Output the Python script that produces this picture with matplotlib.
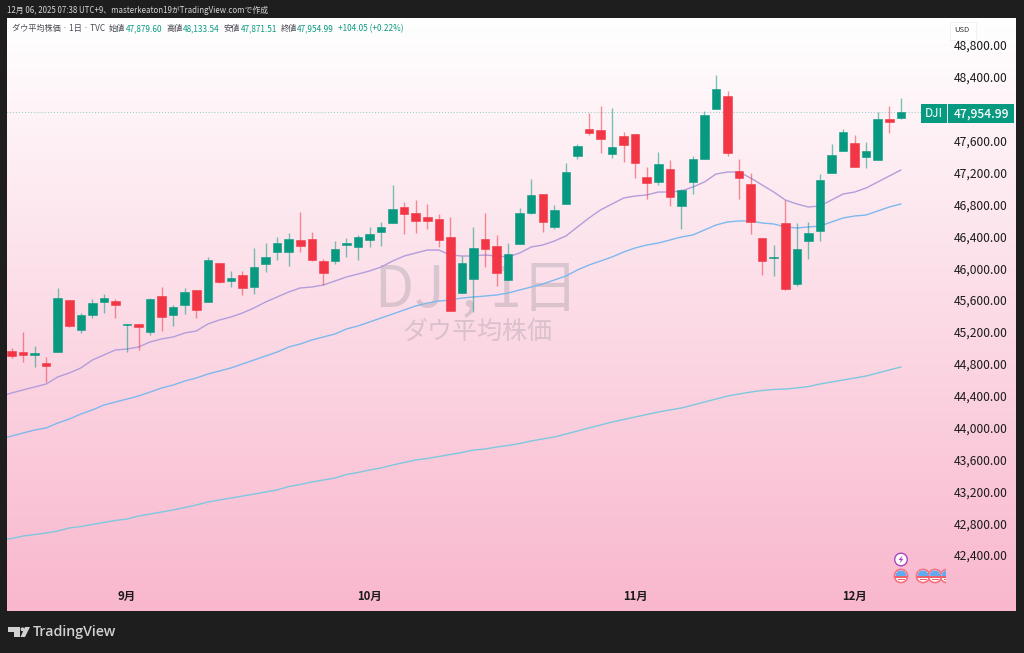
import numpy as np
import matplotlib
matplotlib.use("Agg")
import matplotlib.pyplot as plt
from matplotlib.colors import LinearSegmentedColormap
from matplotlib.patches import Circle, Rectangle, Polygon, Wedge

plt.rcParams['font.family'] = ['Noto Sans CJK JP', 'DejaVu Sans']

# daily candles, Dow Jones
opens = [44960, 44950, 44911, 44811, 44949, 45601, 45225, 45413, 45576, 45589,
         45288, 45300, 45200, 45652, 45413, 45539, 45727, 45576, 46066, 45840,
         45915, 45764, 46053, 46204, 46204, 46354, 46367, 46091, 46091, 46292,
         46267, 46354, 46455, 46568, 46769, 46693, 46643, 46618, 46392, 45689,
         45865, 46367, 46279, 45852, 46304, 46693, 46932, 46518, 46806, 47409,
         47747, 47735, 47434, 47660, 47685, 47145, 47082, 47245, 46781, 47082,
         47371, 47998, 48162, 47220, 47057, 46379, 46129, 46568, 45802, 46342,
         46467, 47195, 47471, 47572, 47396, 47358, 47873, 47879.60]
highs = [45000, 45200, 45024, 44886, 45752, 45601, 45438, 45614, 45677, 45614,
         45300, 45300, 45627, 45765, 45539, 45752, 45727, 46141, 46066, 45965,
         45965, 46254, 46317, 46392, 46442, 46706, 46455, 46116, 46342, 46379,
         46417, 46518, 46580, 47045, 46831, 46856, 46806, 46681, 46643, 46154,
         46518, 46693, 46417, 46317, 46756, 47120, 46932, 46794, 47321, 47559,
         47948, 48036, 48011, 47710, 47685, 47270, 47459, 47358, 46994, 47409,
         47973, 48425, 48224, 47371, 47195, 46379, 46292, 46856, 46568, 46580,
         47182, 47559, 47747, 47672, 47584, 47961, 48036, 48133.54]
lows = [44870, 44823, 44760, 44572, 44949, 45262, 45187, 45376, 45438, 45376,
        44949, 44974, 45162, 45212, 45275, 45426, 45376, 45576, 45815, 45764,
        45664, 45677, 45953, 46103, 46028, 46204, 46091, 45790, 46053, 46141,
        46103, 46267, 46279, 46568, 46430, 46442, 46492, 46267, 45463, 45689,
        45451, 46016, 45777, 45852, 46304, 46681, 46455, 46492, 46806, 47371,
        47672, 47446, 47383, 47333, 47132, 46869, 47045, 46781, 46492, 46932,
        47371, 47998, 47409, 46869, 46430, 45915, 45903, 45727, 45777, 46116,
        46342, 47195, 47471, 47270, 47258, 47358, 47697, 47871.51]
closes = [44900, 44911, 44936, 44773, 45627, 45275, 45413, 45564, 45627, 45539,
          45300, 45262, 45614, 45388, 45514, 45702, 45476, 46103, 45827, 45877,
          45752, 46016, 46141, 46317, 46367, 46279, 46103, 45940, 46241, 46317,
          46392, 46430, 46518, 46743, 46681, 46593, 46593, 46354, 45463, 46066,
          46254, 46241, 45940, 46179, 46693, 46919, 46580, 46731, 47208, 47534,
          47697, 47622, 47522, 47547, 47321, 47070, 47308, 46894, 46982, 47371,
          47923, 48249, 47446, 47132, 46580, 46091, 46141, 45739, 46241, 46442,
          47107, 47421, 47710, 47270, 47471, 47873, 47835, 47954.99]

# moving averages, first value belongs to the bar just left of the chart
ma_purple = [44384, 44434, 44472, 44509, 44547, 44635, 44685, 44748, 44848, 44911,
             44974, 44986, 45011, 45074, 45112, 45137, 45187, 45212, 45300, 45350,
             45388, 45438, 45501, 45576, 45639, 45701, 45752, 45764, 45789, 45839,
             45890, 45927, 45965, 46015, 46090, 46153, 46191, 46228, 46228, 46166,
             46153, 46153, 46166, 46153, 46141, 46191, 46266, 46291, 46341, 46404,
             46517, 46630, 46731, 46806, 46881, 46906, 46919, 46956, 46956, 46969,
             47019, 47082, 47182, 47207, 47207, 47132, 47044, 46956, 46856, 46806,
             46768, 46781, 46856, 46931, 46956, 47007, 47082, 47157, 47232]
ma_blue = [43857, 43894, 43932, 43969, 43995, 44057, 44107, 44170, 44221, 44283,
           44321, 44358, 44396, 44446, 44497, 44534, 44584, 44622, 44672, 44710,
           44748, 44798, 44848, 44898, 44948, 45011, 45049, 45099, 45137, 45174,
           45237, 45275, 45325, 45375, 45425, 45476, 45526, 45563, 45588, 45601,
           45626, 45639, 45651, 45664, 45689, 45727, 45764, 45802, 45852, 45902,
           45978, 46040, 46090, 46141, 46203, 46254, 46291, 46316, 46354, 46392,
           46417, 46480, 46542, 46580, 46593, 46593, 46567, 46555, 46517, 46505,
           46517, 46530, 46580, 46630, 46655, 46668, 46718, 46768, 46806]
ma_cyan = [42589, 42608, 42639, 42658, 42677, 42702, 42740, 42758, 42784, 42809,
           42834, 42853, 42890, 42915, 42940, 42966, 42997, 43028, 43066, 43091,
           43116, 43141, 43166, 43191, 43217, 43260, 43286, 43317, 43342, 43367,
           43411, 43436, 43468, 43493, 43530, 43562, 43593, 43612, 43637, 43662,
           43687, 43718, 43731, 43756, 43775, 43800, 43832, 43857, 43882, 43919,
           43957, 43995, 44032, 44070, 44101, 44133, 44164, 44195, 44221, 44246,
           44283, 44321, 44358, 44396, 44421, 44446, 44465, 44478, 44484, 44497,
           44515, 44547, 44572, 44597, 44622, 44647, 44685, 44723, 44760]

price_ticks = [42400, 42800, 43200, 43600, 44000, 44400, 44800, 45200, 45600,
               46000, 46400, 46800, 47200, 47600, 48400, 48800]
month_pos = [10, 31, 54, 73]
month_labels = ['9月', '10月', '11月', '12月']

GREEN = '#089981'
RED = '#f23645'
W, H = 1024, 653


def px_axes(fig, x0, y0, x1, y1, **kw):
    return fig.add_axes([x0 / W, 1 - y1 / H, (x1 - x0) / W, (y1 - y0) / H], **kw)


fig = plt.figure(figsize=(10.24, 6.53), dpi=100, facecolor='#1e1e1e')

# background gradient
bg = px_axes(fig, 7, 18, 1016, 611)
cmap = LinearSegmentedColormap.from_list('tv', ['#ffffff', '#f9b7cd'])
bg.imshow(np.linspace(0, 1, 256).reshape(-1, 1), aspect='auto', cmap=cmap)
bg.axis('off')

# main chart
ax = px_axes(fig, 7, 18, 947, 582)
ax.patch.set_alpha(0)
for s in ax.spines.values():
    s.set_visible(False)
ax.set_xlim(-0.39, 81.0)
ax.set_ylim(42062, 49140)

ax.text(0.5, 0.518, 'DJI, 1日', transform=ax.transAxes, ha='center', va='center',
        fontsize=41, color='#787b86', alpha=0.25, zorder=0)
ax.text(0.5, 0.444, 'ダウ平均株価', transform=ax.transAxes, ha='center', va='center',
        fontsize=18, color='#787b86', alpha=0.25, zorder=0)

x = np.arange(len(opens))
o = np.array(opens)
h = np.array(highs)
l = np.array(lows)
c = np.array(closes)
colors = [GREEN if a >= b else RED for a, b in zip(c, o)]

ax.vlines(x, l, h, colors=colors, linewidth=1.0, alpha=0.55, zorder=3)
ax.bar(x, np.abs(c - o), bottom=np.minimum(o, c), width=0.74, color=colors,
       edgecolor=colors, linewidth=0.4, zorder=4)

xm = np.arange(-1, len(opens))
ax.plot(xm, ma_purple, color='#b39ddb', linewidth=1.0, zorder=2)
ax.plot(xm, ma_blue, color='#7db8ee', linewidth=1.0, zorder=2)
ax.plot(xm, ma_cyan, color='#7ec8de', linewidth=1.0, zorder=2)

ax.axhline(closes[-1], color=GREEN, linewidth=0.6, linestyle=(0, (1, 2.5)), alpha=0.6, zorder=1)

ax.yaxis.tick_right()
ax.set_yticks(price_ticks)
ax.set_yticklabels([f'{p:,.2f}' for p in price_ticks], fontsize=8.7, color='#1a1a1a')
ax.tick_params(axis='y', length=0, pad=5)
ax.set_xticks(month_pos)
ax.set_xticklabels(month_labels, fontsize=8.2, fontweight='bold', color='#1a1a1a')
ax.tick_params(axis='x', length=0, pad=6)

# overlay in pixel coordinates for the TradingView furniture
ov = px_axes(fig, 0, 0, W, H)
ov.set_xlim(0, W)
ov.set_ylim(H, 0)
ov.axis('off')
ov.patch.set_alpha(0)

ov.text(7, 10, '12月 06, 2025 07:38 UTC+9、masterkeaton19がTradingView.comで作成',
        fontsize=5.7, color='#d6d6d6', va='center')

legend_y = 28.5
ov.text(12, legend_y, 'ダウ平均株価 · 1日 · TVC', fontsize=5.9, color='#4a4a55', va='center')
for lx, vx, name, val in [(109, 125.5, '始値', '47,879.60'), (166, 183, '高値', '48,133.54'),
                          (224, 241, '安値', '47,871.51'), (281, 297, '終値', '47,954.99')]:
    ov.text(lx, legend_y, name, fontsize=5.9, color='#4a4a55', va='center')
    ov.text(vx, legend_y, val, fontsize=5.9, color=GREEN, va='center')
ov.text(338, legend_y, '+104.05 (+0.22%)', fontsize=5.9, color=GREEN, va='center')

# USD box
ov.add_patch(Rectangle((950, 22), 26, 18, facecolor='white', edgecolor='#eeeeee', linewidth=0.5, zorder=5))
ov.text(962, 30.5, 'USD', fontsize=5.5, color='#333333', ha='center', va='center', zorder=6)

# last price label
ov.add_patch(Rectangle((921, 104), 93, 19, facecolor=GREEN, edgecolor='none', zorder=5))
ov.plot([946.5, 946.5], [104, 123], color='#e8f5f2', linewidth=0.7, zorder=6)
ov.text(933.5, 113.5, 'DJI', fontsize=8.5, color='white', ha='center', va='center', zorder=6)
ov.text(981, 113.5, '47,954.99', fontsize=8.7, color='white', ha='center', va='center', zorder=6,
        fontweight='medium')

# event icons
clip = Rectangle((0, 0), 946, H, transform=ov.transData)
ov.add_patch(Circle((901, 559.5), 6.3, facecolor='white', edgecolor='#ab47bc', linewidth=1.0))
ov.add_patch(Polygon([(902.5, 555.5), (898.5, 560), (900.8, 560), (899.5, 563.5),
                      (903.5, 558.8), (901.2, 558.8)], closed=True, facecolor='#ab47bc',
                     edgecolor='none', zorder=3))
for fx in [901, 923, 935, 947]:
    disc = Circle((fx, 576), 6.6, facecolor='white', edgecolor='#f7727f', linewidth=1.2, zorder=3)
    top = Wedge((fx, 576), 5.6, 180, 360, facecolor='#64a8ee', edgecolor='none', zorder=4)
    stripe = Rectangle((fx - 5.6, 576), 11.2, 1.6, facecolor='#f0606c', edgecolor='none', zorder=4)
    low = Rectangle((fx - 3.5, 579.3), 7, 1.0, facecolor='#f0606c', edgecolor='none', zorder=4)
    for p in (disc, top, stripe, low):
        ov.add_patch(p)
        p.set_clip_path(clip)

# TradingView logo
logo = '#d1d1d1'
ov.add_patch(Polygon([(8, 627), (20, 627), (20, 637), (14, 637), (14, 632), (8, 632)],
                     closed=True, facecolor=logo, edgecolor='none'))
ov.add_patch(Circle((22.5, 629.3), 1.9, facecolor=logo, edgecolor='none'))
ov.add_patch(Polygon([(25, 627), (30, 627), (25, 637), (20.5, 637)],
                     closed=True, facecolor=logo, edgecolor='none'))
ov.text(33, 632, 'TradingView', fontsize=10.2, color=logo, va='center', family='Open Sans',
        fontweight='semibold')

fig.savefig('out.png', dpi=100, facecolor=fig.get_facecolor())
